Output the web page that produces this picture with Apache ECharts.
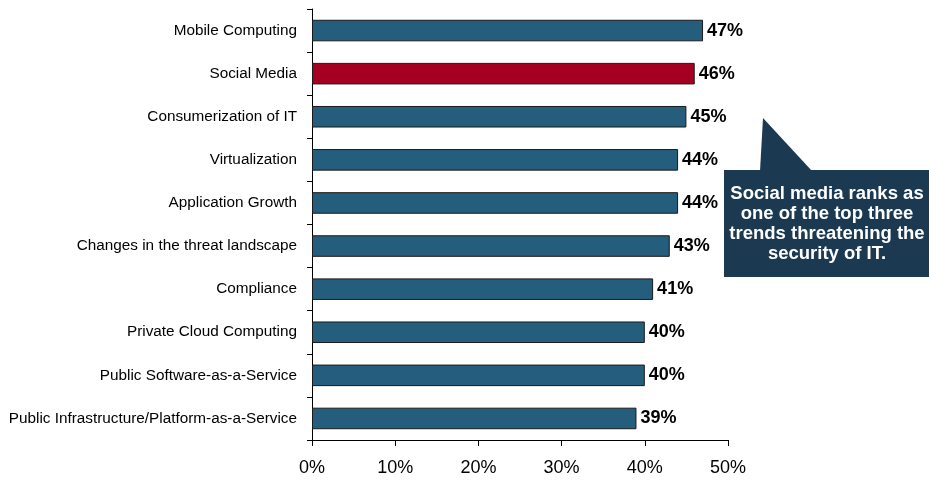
<!DOCTYPE html>
<html><head><meta charset="utf-8">
<script src="https://cdn.jsdelivr.net/npm/echarts@6/dist/echarts.min.js"></script>
<style>html,body{margin:0;padding:0;background:#fff}#c{width:929px;height:482px}</style>
</head><body><div id="c"></div>
<script>
const categories = ["Mobile Computing","Social Media","Consumerization of IT","Virtualization","Application Growth","Changes in the threat landscape","Compliance","Private Cloud Computing","Public Software-as-a-Service","Public Infrastructure/Platform-as-a-Service"];
const values = [47,46,45,44,44,43,41,40,40,39];
const highlight = "Social Media";
const xTicks = [0,10,20,30,40,50];
const calloutLines = ["Social media ranks as","one of the top three","trends threatening the","security of IT."];

const chart = echarts.init(document.getElementById('c'), null, {renderer:'canvas'});
const font = '"Liberation Sans", Arial, sans-serif';
chart.setOption({
  animation:false,
  grid:{left:312, top:9, width:416, height:431, containLabel:false},
  xAxis:{type:'value', min:xTicks[0], max:xTicks[xTicks.length-1], interval:10,
    axisLine:{show:true, lineStyle:{color:'#000', width:1}},
    axisTick:{show:true, length:6, lineStyle:{color:'#000'}},
    splitLine:{show:false},
    axisLabel:{formatter:'{value}%', color:'#000', fontSize:18, fontFamily:font, margin:19}},
  yAxis:{type:'category', inverse:true, data:categories,
    axisLine:{show:true, lineStyle:{color:'#000', width:1}},
    axisTick:{show:true, length:5, alignWithLabel:false, lineStyle:{color:'#000'}},
    axisLabel:{color:'#000', fontSize:15.3, fontFamily:font, margin:15}},
  series:[{type:'bar', barWidth:'50%',
    data: values.map((v,i)=>({value:v, itemStyle:{color: categories[i]===highlight ? '#A50021' : '#245E7C'}})),
    itemStyle:{borderColor:'#1a1a1a', borderWidth:1},
    label:{show:true, position:'right', distance:4, formatter:'{c}%', color:'#000', fontWeight:'bold', fontSize:18, fontFamily:font}
  }],
  graphic:[
    {type:'polygon', shape:{points:[[763,118],[760,171],[812,171]]}, style:{fill:'#1B3A52'}},
    {type:'rect', shape:{x:724, y:170, width:210, height:107}, style:{fill:'#1B3A52'}},
    {type:'text', x:827, y:224, style:{text:calloutLines.join('\n'), fill:'#fff', font:'bold 18.5px '+font, align:'center', verticalAlign:'middle', lineHeight:20}}
  ]
});
</script></body></html>
